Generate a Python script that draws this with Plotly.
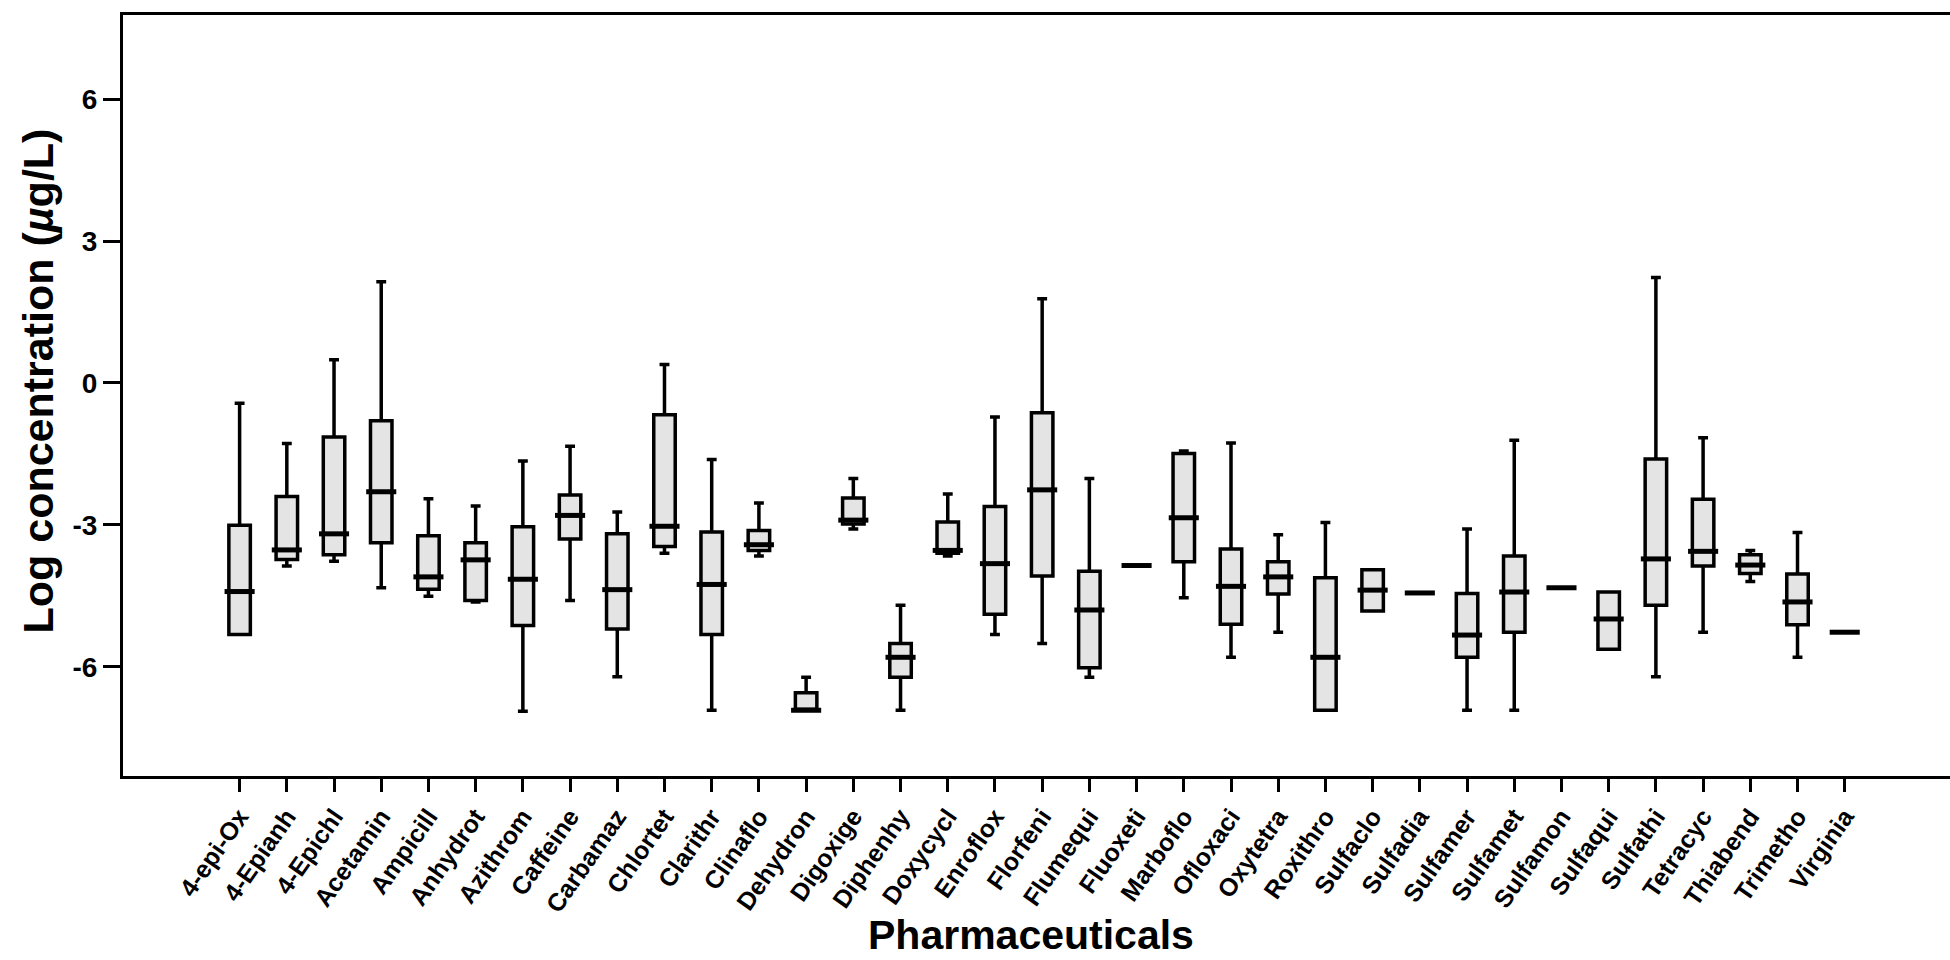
import plotly.graph_objects as go

categories = ["4-epi-Ox", "4-Epianh", "4-Epichl", "Acetamin", "Ampicill", "Anhydrot",
              "Azithrom", "Caffeine", "Carbamaz", "Chlortet", "Clarithr", "Clinaflo",
              "Dehydron", "Digoxige", "Diphenhy", "Doxycycl", "Enroflox", "Florfeni",
              "Flumequi", "Fluoxeti", "Marboflo", "Ofloxaci", "Oxytetra", "Roxithro",
              "Sulfaclo", "Sulfadia", "Sulfamer", "Sulfamet", "Sulfamon", "Sulfaqui",
              "Sulfathi", "Tetracyc", "Thiabend", "Trimetho", "Virginia"]

lower_whisker = [-5.32, -3.87, -3.77, -4.33, -4.51, -4.63, -6.94, -4.60, -6.21, -3.60,
                 -6.92, -3.66, -6.92, -3.09, -6.92, -3.66, -5.32, -5.51, -6.22, -3.86,
                 -4.54, -5.80, -5.27, -6.92, -4.82, -4.44, -6.92, -6.92, -4.33, -5.63,
                 -6.21, -5.27, -4.20, -5.80, -5.27]
q1_values = [-5.32, -3.73, -3.63, -3.38, -4.36, -4.60, -5.13, -3.30, -5.20, -3.46,
             -5.32, -3.54, -6.92, -2.98, -6.22, -3.60, -4.89, -4.08, -6.02, -3.86,
             -3.78, -5.10, -4.46, -6.92, -4.82, -4.44, -5.80, -5.27, -4.33, -5.63,
             -4.70, -3.87, -4.03, -5.11, -5.27]
median_values = [-4.41, -3.53, -3.19, -2.30, -4.10, -3.74, -4.15, -2.80, -4.37, -3.03,
                 -4.26, -3.42, -6.92, -2.90, -5.80, -3.54, -3.82, -2.26, -4.80, -3.86,
                 -2.85, -4.30, -4.10, -5.80, -4.38, -4.44, -5.33, -4.42, -4.33, -4.99,
                 -3.72, -3.56, -3.85, -4.63, -5.27]
q3_values = [-3.01, -2.40, -1.14, -0.80, -3.23, -3.38, -3.04, -2.37, -3.19, -0.67,
             -3.15, -3.12, -6.55, -2.43, -5.51, -2.94, -2.61, -0.63, -3.98, -3.86,
             -1.49, -3.51, -3.78, -4.12, -3.95, -4.44, -4.45, -3.66, -4.33, -4.42,
             -1.61, -2.46, -3.63, -4.04, -5.27]
upper_whisker = [-0.43, -1.28, 0.49, 2.14, -2.45, -2.60, -1.65, -1.34, -2.73, 0.39,
                 -1.62, -2.54, -6.22, -2.02, -4.70, -2.35, -0.72, 1.78, -2.02, -3.86,
                 -1.44, -1.27, -3.21, -2.95, -3.95, -4.44, -3.09, -1.21, -4.33, -4.42,
                 2.23, -1.16, -3.54, -3.16, -5.27]

y_ticks = [-6, -3, 0, 3, 6]

FONT = "Liberation Sans, Arial, Helvetica, sans-serif"

fig = go.Figure()
fig.add_trace(go.Box(
    x=categories,
    q1=q1_values, median=median_values, q3=q3_values,
    lowerfence=lower_whisker, upperfence=upper_whisker,
    fillcolor="#e4e4e4",
    line=dict(color="black", width=3.5),
    whiskerwidth=0.46,
    boxpoints=False,
    showlegend=False,
    hoverinfo="skip",
))
# thicker median strokes, as in the reference
fig.add_trace(go.Scatter(
    x=categories, y=median_values, mode="markers",
    marker=dict(symbol="line-ew", size=21.5, line=dict(color="black", width=5)),
    showlegend=False, hoverinfo="skip",
))

fig.update_layout(
    width=1950, height=960,
    margin=dict(l=123, r=0, t=15, b=184),
    paper_bgcolor="white", plot_bgcolor="white",
    boxgap=0.35,
    showlegend=False,
    font=dict(family=FONT, color="black"),
)
fig.update_xaxes(
    type="category",
    range=[-2.47, 36.23],
    showline=True, linecolor="black", linewidth=3, mirror=True,
    ticks="outside", ticklen=13, tickwidth=2.5, tickcolor="black",
    tickangle=-55,
    tickfont=dict(family=FONT, size=25, weight="bold", color="black"),
    showgrid=False, zeroline=False,
)
fig.update_yaxes(
    range=[-8.31, 7.78],
    tickvals=y_ticks, ticktext=[str(v) for v in y_ticks],
    showline=True, linecolor="black", linewidth=3, mirror=False,
    ticks="outside", ticklen=17, tickwidth=2.5, tickcolor="black",
    tickfont=dict(family=FONT, size=28, weight="bold", color="black"),
    showgrid=False, zeroline=False,
)
fig.add_annotation(
    text="Log concentration (<i>µ</i>g/L)", textangle=-90,
    xref="paper", yref="paper", x=0, y=0.5, xanchor="center", yanchor="middle",
    xshift=-86, yshift=14, showarrow=False,
    font=dict(family=FONT, size=43, weight="bold", color="black"),
)
fig.add_annotation(
    text="Pharmaceuticals",
    xref="paper", yref="paper", x=0.5, y=0, xanchor="center", yanchor="middle",
    xshift=-6, yshift=-159, showarrow=False,
    font=dict(family=FONT, size=41, weight="bold", color="black"),
)

fig.write_html("out.html")
